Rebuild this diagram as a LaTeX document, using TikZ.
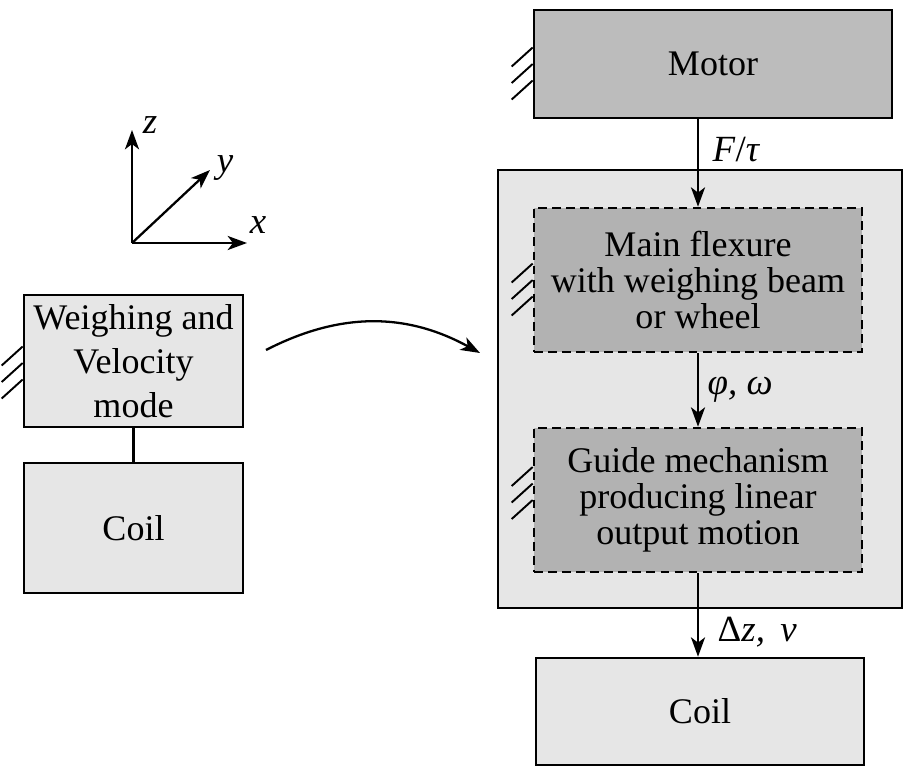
\documentclass[tikz,border=0pt]{standalone}
\usepackage{fontspec}
\setmainfont{Liberation Serif}
\usetikzlibrary{arrows.meta}
\definecolor{boxdark}{RGB}{188,188,188}
\definecolor{boxmid}{RGB}{178,178,178}
\definecolor{boxlight}{RGB}{230,230,230}

\tikzset{
  block/.style={draw, line width=1.5pt, align=center, font=\fontsize{20.5}{20.6}\selectfont},
  inner/.style={block, fill=boxmid, dashed, dash pattern=on 5pt off 3pt,
    minimum width=6.56cm, minimum height=2.88cm},
  link/.style={line width=1.3pt, -{Stealth[length=11pt,width=8pt,inset=3pt]}},
  hatch/.style={line width=1.1pt},
  lbl/.style={font=\fontsize{21}{22}\selectfont\itshape, inner sep=2pt}
}

\begin{document}
\begin{tikzpicture}
\useasboundingbox (0,0) rectangle (18.28,15.46);

% Right side: frame and blocks
\node[block, fill=boxlight, minimum width=8.08cm, minimum height=8.76cm] (frame) at (14.0,7.68) {};
\node[block, fill=boxdark, minimum width=7.16cm, minimum height=2.16cm] (motor) at (14.26,14.18) {Motor};
\node[inner] (flexure) at (13.96,9.86) {Main flexure\\with weighing beam\\or wheel};
\node[inner] (guide) at (13.96,5.46) {Guide mechanism\\producing linear\\output motion};
\node[block, fill=boxlight, minimum width=6.56cm, minimum height=2.14cm] (coilR) at (14.0,1.23) {Coil};

% Left side
\node[block, fill=boxlight, minimum width=4.38cm, minimum height=2.64cm,
  font=\fontsize{20.5}{25}\selectfont] (weigh) at (2.67,8.24) {Weighing and\\Velocity\\mode};
\node[block, fill=boxlight, minimum width=4.38cm, minimum height=2.6cm] (coilL) at (2.67,4.9) {Coil};
\draw[line width=1.3pt] (weigh.south) -- (coilL.north);

% Ground hatching
\foreach \n/\d in {motor/0, flexure/0, guide/0.33, weigh/-0.04}
  \foreach \k in {0,1,2}
    \draw[hatch] ([yshift=\d cm+0.33cm-\k*0.33cm]\n.west) -- ++(-0.42,-0.38);

% Signal arrows
\draw[link] (motor.south -| flexure.north) -- node[lbl, pos=0.35, right, xshift=0.2cm] {F\/\upshape/\itshape τ} (flexure.north);
\draw[link] (flexure.south) -- node[lbl, pos=0.5, right, xshift=0.1cm] {φ, ω} (guide.north);
\draw[link] (guide.south) -- node[lbl, pos=0.7, right, xshift=0.3cm] {\upshape Δ\itshape z,\, v} (guide.south |- coilR.north);

% Coordinate axes
\coordinate (o) at (2.64,10.6);
\coordinate (ez) at (2.64,12.86);
\coordinate (ey) at (4.2,12.06);
\coordinate (ex) at (4.94,10.6);
\draw[link] (o) -- (ez);
\draw[link] (o) -- (ey);
\draw[link] (o) -- (ex);
\node[lbl] (zlab) at (3.0,12.96) {z};
\node[lbl] (ylab) at (4.5,12.1) {y};
\node[lbl] (xlab) at (5.16,10.96) {x};

% Curved arrow
\coordinate (cfrom) at (5.32,8.46);
\coordinate (cto) at (9.6,8.4);
\draw[link] (cfrom) to[bend left=28] (cto);
\end{tikzpicture}
\end{document}
